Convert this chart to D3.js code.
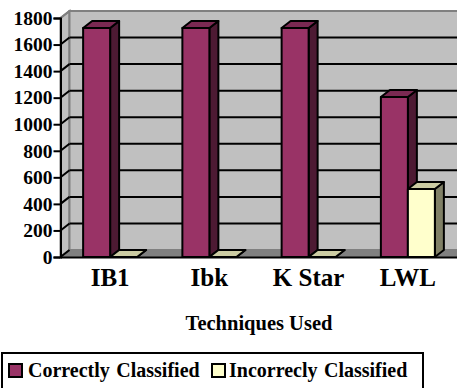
<!DOCTYPE html>
<html>
<head>
<meta charset="utf-8">
<script src="https://cdn.jsdelivr.net/npm/d3@7"></script>
<style>
  html, body { margin: 0; padding: 0; background: white; overflow: hidden; }
  text { font-family: "Liberation Serif", serif; font-weight: bold; fill: black; }
</style>
</head>
<body>
<svg id="chart" width="457" height="388"></svg>
<script>
const categories = ["IB1", "Ibk", "K Star", "LWL"];
const seriesNames = ["Correctly Classified", "Incorrecly Classified"];
const correct = [1725, 1725, 1725, 1205];
const incorrect = [0, 0, 0, 512];
const yTicks = [0, 200, 400, 600, 800, 1000, 1200, 1400, 1600, 1800];

const svg = d3.select("#chart");

const margin = {top: 18, bottom: 257, left: 60.5, right: 457.5};
const dx = 9, dy = -7;   // depth of the 3d box
const barW = 27;

const y = d3.scaleLinear().domain([0, 1800]).range([margin.bottom, margin.top]);
const x = d3.scaleBand().domain(categories).range([margin.left, margin.right]);
const x1 = d3.scaleBand().domain(seriesNames)
    .range([x.bandwidth() / 2 - barW, x.bandwidth() / 2 + barW]);

const colors = {
  [seriesNames[0]]: {front: "#993366", side: "#4d1a33", top: "#7a2952"},
  [seriesNames[1]]: {front: "#ffffcc", side: "#808066", top: "#cccca3"}
};

const poly = pts => pts.map(p => p.join(",")).join(" ");

// side wall, back wall, floor
svg.append("polygon")
    .attr("points", poly([[margin.left, y(1800)], [margin.left + dx, y(1800) + dy], [margin.left + dx, y(0) + dy], [margin.left, y(0)]]))
    .attr("fill", "#c0c0c0").attr("stroke", "#808080").attr("stroke-width", 2);
svg.append("rect")
    .attr("x", margin.left + dx).attr("y", y(1800) + dy)
    .attr("width", margin.right - margin.left).attr("height", y(0) - y(1800))
    .attr("fill", "#c0c0c0").attr("stroke", "#808080").attr("stroke-width", 2);
svg.append("polygon")
    .attr("points", poly([[margin.left, y(0)], [margin.left + dx, y(0) + dy], [margin.right + dx, y(0) + dy], [margin.right, y(0)]]))
    .attr("fill", "#808080");

// gridlines on back wall and down the side wall
const grid = svg.append("g");
grid.selectAll("line.back").data(yTicks.filter(d => d > 0 && d < 1800)).join("line")
    .attr("class", "back")
    .attr("x1", margin.left + dx).attr("x2", margin.right + dx)
    .attr("y1", d => y(d) + dy).attr("y2", d => y(d) + dy)
    .attr("stroke", "black").attr("stroke-width", 2);
grid.selectAll("line.side").data(yTicks.filter(d => d < 1800)).join("line")
    .attr("class", "side")
    .attr("x1", margin.left).attr("x2", margin.left + dx)
    .attr("y1", d => y(d)).attr("y2", d => y(d) + dy)
    .attr("stroke", "black").attr("stroke-width", 2);
svg.append("line")
    .attr("x1", margin.left).attr("x2", margin.left + dx)
    .attr("y1", y(1800)).attr("y2", y(1800) + dy)
    .attr("stroke", "#808080").attr("stroke-width", 2);

// bars
const rows = categories.map((c, i) => [
  {cat: c, name: seriesNames[0], value: correct[i]},
  {cat: c, name: seriesNames[1], value: incorrect[i]}
]).flat();

const bars = svg.append("g").selectAll("g").data(rows).join("g")
    .attr("stroke", "black").attr("stroke-width", 2).attr("stroke-linejoin", "round");

bars.append("polygon") // side
    .attr("fill", d => colors[d.name].side)
    .attr("points", d => {
      const r = x(d.cat) + x1(d.name) + barW;
      return poly([[r, y(d.value)], [r + dx, y(d.value) + dy], [r + dx, y(0) + dy], [r, y(0)]]);
    });
bars.append("polygon") // top
    .attr("fill", d => colors[d.name].top)
    .attr("points", d => {
      const l = x(d.cat) + x1(d.name), t = y(d.value);
      return poly([[l, t], [l + dx, t + dy], [l + barW + dx, t + dy], [l + barW, t]]);
    });
bars.filter(d => d.value > 0).append("rect") // front
    .attr("fill", d => colors[d.name].front)
    .attr("x", d => x(d.cat) + x1(d.name))
    .attr("y", d => y(d.value))
    .attr("width", barW)
    .attr("height", d => y(0) - y(d.value));

// axes
const yAxis = svg.append("g")
    .attr("transform", `translate(${margin.left},0)`)
    .call(d3.axisLeft(y).tickValues(yTicks).tickSize(7).tickPadding(1).tickFormat(d3.format("d")));
yAxis.selectAll("line").attr("stroke", "black").attr("stroke-width", 2);
yAxis.select(".domain").attr("stroke", "black").attr("stroke-width", 2);
yAxis.selectAll("text").style("font-size", "19.5px").attr("fill", "black");

const xAxis = svg.append("g")
    .attr("transform", `translate(0,${margin.bottom})`)
    .call(d3.axisBottom(x).tickSize(0).tickPadding(11));
xAxis.select(".domain").attr("stroke", "black").attr("stroke-width", 2);
xAxis.selectAll("text").style("font-size", "25px").attr("fill", "black");

svg.append("text")
    .attr("x", 259).attr("y", 330)
    .attr("text-anchor", "middle")
    .style("font-size", "20.5px")
    .text("Techniques Used");

// legend
svg.append("rect")
    .attr("x", 2).attr("y", 353).attr("width", 421).attr("height", 40)
    .attr("fill", "white").attr("stroke", "black").attr("stroke-width", 2);

const legendX = [9, 212];
const legendText = [28, 229];
const legend = svg.append("g").selectAll("g").data(seriesNames).join("g");
legend.append("rect")
    .attr("x", (d, i) => legendX[i]).attr("y", 364)
    .attr("width", 13).attr("height", 13)
    .attr("fill", d => colors[d].front)
    .attr("stroke", "black").attr("stroke-width", 2);
legend.append("text")
    .attr("x", (d, i) => legendText[i]).attr("y", 377)
    .style("font-size", "20px")
    .style("word-spacing", "1.5px")
    .text(d => d);
</script>
</body>
</html>
